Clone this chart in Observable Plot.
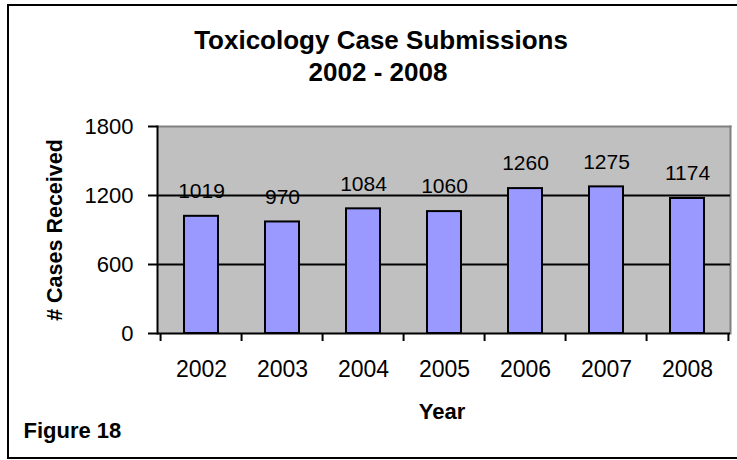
<!DOCTYPE html>
<html>
<head>
<meta charset="utf-8">
<script src="https://cdn.jsdelivr.net/npm/d3@7"></script>
<script src="https://cdn.jsdelivr.net/npm/@observablehq/plot@0.6"></script>
<style>
  html, body { margin: 0; padding: 0; background: #fff; overflow: hidden; }
  #wrap { position: relative; width: 737px; height: 460px; overflow: hidden; }
  #border { position: absolute; left: 7px; top: 4px; width: 750px; height: 451px; border: 2px solid #000; box-sizing: content-box; pointer-events: none; }
  svg { font-family: Arial, "Liberation Sans", sans-serif; }
</style>
</head>
<body>
<div id="wrap"><div id="border"></div></div>
<script>
const years = ["2002", "2003", "2004", "2005", "2006", "2007", "2008"];
const cases = [1019, 970, 1084, 1060, 1260, 1275, 1174];
const yTicks = [0, 600, 1200, 1800];
const titleLines = ["Toxicology Case Submissions", "2002 - 2008"];
const xLabel = "Year";
const yLabel = "# Cases Received";
const figureLabel = "Figure 18";

const data = years.map((y, i) => ({year: y, value: cases[i]}));

const W = 737, H = 460;
const mL = 157, mR = 7, mT = 126, mB = 127;
const step = (W - mL - mR) / years.length;
const font = 'Arial, "Liberation Sans", sans-serif';

const chart = Plot.plot({
  width: W,
  height: H,
  marginLeft: mL,
  marginRight: mR,
  marginTop: mT,
  marginBottom: mB,
  style: {fontFamily: font, background: "transparent", color: "#000"},
  x: {type: "band", domain: years, paddingInner: 0.585, paddingOuter: 0.2925, label: null},
  y: {domain: [0, 1800], label: null},
  marks: [
    Plot.frame({fill: "#C0C0C0", stroke: null}),
    Plot.frame({anchor: "top", stroke: "#808080", strokeWidth: 2}),
    Plot.frame({anchor: "right", stroke: "#808080", strokeWidth: 2}),
    Plot.ruleY(yTicks.filter(t => t > 0 && t < 1800), {stroke: "#000", strokeWidth: 2}),
    Plot.barY(data, {x: "year", y: "value", fill: "#9999FF", stroke: "#000", strokeWidth: 2}),
    Plot.ruleY([0], {stroke: "#000", strokeWidth: 2}),
    Plot.frame({anchor: "left", stroke: "#000", strokeWidth: 2}),
    Plot.axisY({ticks: yTicks, tickSize: 9, tickPadding: 15, fontSize: 22, strokeWidth: 2, label: null, tickFormat: d => String(d)}),
    // boundary ticks on x axis
    Plot.axisX({ticks: years, tickSize: 8, strokeWidth: 2, dx: -step / 2, tickFormat: () => "", label: null}),
    Plot.axisX({ticks: [years[years.length - 1]], tickSize: 8, strokeWidth: 2, dx: step / 2, tickFormat: () => "", label: null}),
    Plot.axisX({tickSize: 0, tickPadding: 27, fontSize: 23, label: null}),
    Plot.text(data, {x: "year", y: "value", text: d => String(d.value), dy: -25, lineAnchor: "middle", fontSize: 21, fill: "#000"}),
    Plot.text([titleLines[0]], {frameAnchor: "top", dx: -63, dy: -86, lineAnchor: "middle", fontSize: 26, fontWeight: "bold", fill: "#000"}),
    Plot.text([titleLines[1]], {frameAnchor: "top", dx: -66, dy: -54, lineAnchor: "middle", fontSize: 26, fontWeight: "bold", fill: "#000"}),
    Plot.text([xLabel], {frameAnchor: "bottom", dx: -2, dy: 78, lineAnchor: "middle", fontSize: 22, fontWeight: "bold", fill: "#000"}),
    Plot.text([yLabel], {frameAnchor: "left", dx: -102, rotate: -90, textAnchor: "middle", lineAnchor: "middle", fontSize: 21.5, fontWeight: "bold", fill: "#000"}),
    Plot.text([figureLabel], {frameAnchor: "bottom-left", dx: -134, dy: 97, textAnchor: "start", lineAnchor: "middle", fontSize: 22, fontWeight: "bold", fill: "#000"})
  ]
});
document.getElementById("wrap").prepend(chart);
</script>
</body>
</html>
